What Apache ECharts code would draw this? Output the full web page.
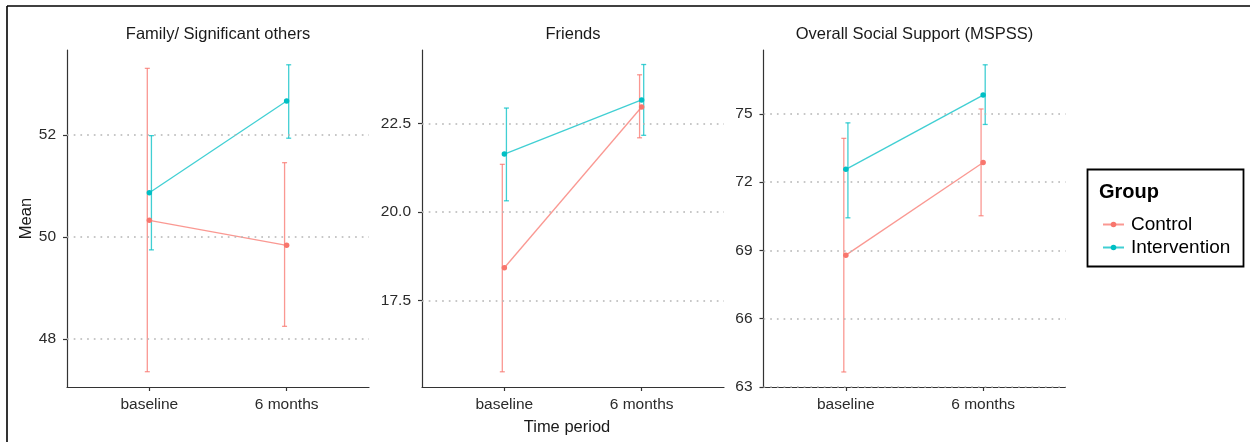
<!DOCTYPE html>
<html>
<head>
<meta charset="utf-8">
<script src="https://cdn.jsdelivr.net/npm/echarts@6/dist/echarts.min.js"></script>
<style>
html,body{margin:0;padding:0;background:#fff;}
#chart{width:1250px;height:442px;}
</style>
</head>
<body>
<div id="chart"></div>
<script>
// ---------- data ----------
const categories = ['baseline', '6 months'];
const groups = ['Control', 'Intervention'];
const panelTitles = ['Family/ Significant others', 'Friends', 'Overall Social Support (MSPSS)'];

// Family / Significant others
const famControlMean = [50.33, 49.84];
const famControlLow  = [47.36, 48.25];
const famControlHigh = [53.31, 51.46];
const famInterMean   = [50.87, 52.67];
const famInterLow    = [49.75, 51.94];
const famInterHigh   = [51.99, 53.38];
const famTicks = [48, 50, 52];

// Friends
const friControlMean = [18.43, 22.97];
const friControlLow  = [15.49, 22.10];
const friControlHigh = [21.35, 23.88];
const friInterMean   = [21.64, 23.17];
const friInterLow    = [20.32, 22.17];
const friInterHigh   = [22.94, 24.17];
const friTicks = [17.5, 20.0, 22.5];

// Overall (MSPSS)
const allControlMean = [68.79, 72.86];
const allControlLow  = [63.66, 70.52];
const allControlHigh = [73.92, 75.21];
const allInterMean   = [72.56, 75.82];
const allInterLow    = [70.43, 74.53];
const allInterHigh   = [74.60, 77.15];
const allTicks = [63, 66, 69, 72, 75];

// ---------- style ----------
const FONT = 'Liberation Sans, Arial, sans-serif';
const colors = ['#F8766D', '#00BFC4'];
const fadedColors = ['rgba(248,118,109,0.75)', 'rgba(0,191,196,0.75)'];
const dodge = 0.015;

const panels = [
  { title: panelTitles[0], left: 67,  min: 47.06, max: 53.67, ticks: famTicks, dec: 0,
    means: [famControlMean, famInterMean], lows: [famControlLow, famInterLow], highs: [famControlHigh, famInterHigh] },
  { title: panelTitles[1], left: 422, min: 15.06, max: 24.58, ticks: friTicks, dec: 1,
    means: [friControlMean, friInterMean], lows: [friControlLow, friInterLow], highs: [friControlHigh, friInterHigh] },
  { title: panelTitles[2], left: 763.5, min: 63, max: 77.8, ticks: allTicks, dec: 0,
    means: [allControlMean, allInterMean], lows: [allControlLow, allInterLow], highs: [allControlHigh, allInterHigh] }
];
const gridTop = 50, gridHeight = 337, gridWidth = 302;

const grid = [], xAxis = [], yAxis = [], series = [], graphic = [];
const xPositions = categories.map((c, i) => i + 1);

panels.forEach((p, pi) => {
  grid.push({ left: p.left, top: gridTop, width: gridWidth, height: gridHeight });
  xAxis.push({
    type: 'value', gridIndex: pi, min: 0.4, max: 2.6,
    axisLine: { show: true, onZero: false, lineStyle: { color: '#333', width: 1.2 } },
    axisTick: { show: true, length: 4, customValues: xPositions, lineStyle: { color: '#333', width: 1.2 } },
    axisLabel: { customValues: xPositions, margin: 10, fontFamily: FONT, fontSize: 15.5, color: '#2b2b2b',
      formatter: v => categories[Math.round(v) - 1] || '' },
    splitLine: { show: false }
  });
  yAxis.push({
    type: 'value', gridIndex: pi, min: p.min, max: p.max,
    axisLine: { show: true, onZero: false, lineStyle: { color: '#333', width: 1.2 } },
    axisTick: { show: true, length: 4, customValues: p.ticks, lineStyle: { color: '#333', width: 1.2 } },
    axisLabel: { customValues: p.ticks, margin: 11, fontFamily: FONT, fontSize: 15.5, color: '#2b2b2b',
      formatter: v => v.toFixed(p.dec) },
    splitLine: { show: false }
  });
  // dotted grid lines
  series.push({
    type: 'line', xAxisIndex: pi, yAxisIndex: pi, data: [], silent: true, z: 1,
    markLine: {
      silent: true, symbol: ['none', 'none'], label: { show: false },
      lineStyle: { color: '#B5B5B5', width: 1.7, type: [1.7, 5] },
      animation: false,
      data: p.ticks.map(t => ({ yAxis: t }))
    }
  });
  groups.forEach((g, gi) => {
    const off = gi === 0 ? -dodge : dodge;
    // error bars
    series.push({
      type: 'custom', xAxisIndex: pi, yAxisIndex: pi, z: 3,
      data: xPositions.map((x, k) => [x + off, p.lows[gi][k], p.highs[gi][k]]),
      encode: { x: 0, y: [1, 2] },
      renderItem: (params, api) => {
        const x = api.value(0);
        const a = api.coord([x, api.value(1)]);
        const b = api.coord([x, api.value(2)]);
        const hw = 2.5;
        const st = { stroke: fadedColors[gi], lineWidth: 1.3 };
        return { type: 'group', children: [
          { type: 'line', shape: { x1: a[0], y1: a[1], x2: b[0], y2: b[1] }, style: st },
          { type: 'line', shape: { x1: a[0] - hw, y1: a[1], x2: a[0] + hw, y2: a[1] }, style: st },
          { type: 'line', shape: { x1: b[0] - hw, y1: b[1], x2: b[0] + hw, y2: b[1] }, style: st }
        ]};
      }
    });
    // means line + points
    series.push({
      name: g, type: 'line', xAxisIndex: pi, yAxisIndex: pi, z: 4,
      data: xPositions.map((x, k) => [x, p.means[gi][k]]),
      symbol: 'circle', symbolSize: 5.5, showSymbol: true,
      itemStyle: { color: colors[gi] },
      lineStyle: { color: fadedColors[gi], width: 1.3 },
      emphasis: { disabled: true }
    });
  });
  graphic.push({
    type: 'text', x: p.left + gridWidth / 2, y: 34,
    style: { text: p.title, fontFamily: FONT, fontSize: 16.5, fill: '#1a1a1a', align: 'center', verticalAlign: 'middle' }
  });
});

// axis titles
graphic.push({
  type: 'text', x: 26, y: 218.5, rotation: Math.PI / 2,
  style: { text: 'Mean', fontFamily: FONT, fontSize: 16.5, fill: '#1a1a1a', align: 'center', verticalAlign: 'middle' }
});
graphic.push({
  type: 'text', x: 567, y: 427,
  style: { text: 'Time period', fontFamily: FONT, fontSize: 16.5, fill: '#1a1a1a', align: 'center', verticalAlign: 'middle' }
});
// outer frame (top + left)
graphic.push({ type: 'line', shape: { x1: 7, y1: 6, x2: 1250, y2: 6 }, style: { stroke: '#000', lineWidth: 1.6 } });
graphic.push({ type: 'line', shape: { x1: 7, y1: 6, x2: 7, y2: 442 }, style: { stroke: '#000', lineWidth: 1.6 } });
// legend box + title
graphic.push({ type: 'rect', shape: { x: 1087.5, y: 169.5, width: 156, height: 97 }, style: { fill: 'none', stroke: '#000', lineWidth: 1.8 }, z: 10 });
graphic.push({
  type: 'text', x: 1099, y: 192, z: 10,
  style: { text: 'Group', fontFamily: FONT, fontSize: 20, fontWeight: 'bold', fill: '#000', align: 'left', verticalAlign: 'middle' }
});

const chart = echarts.init(document.getElementById('chart'), null, { renderer: 'canvas' });
chart.setOption({
  animation: false,
  backgroundColor: '#fff',
  grid, xAxis, yAxis, series, graphic,
  legend: {
    data: groups, orient: 'vertical', left: 1097, top: 210,
    itemWidth: 21, itemHeight: 7, itemGap: 4,
    textStyle: { fontFamily: FONT, fontSize: 19, color: '#000', padding: [0, 0, 0, 2] },
    selectedMode: false
  }
});
</script>
</body>
</html>
